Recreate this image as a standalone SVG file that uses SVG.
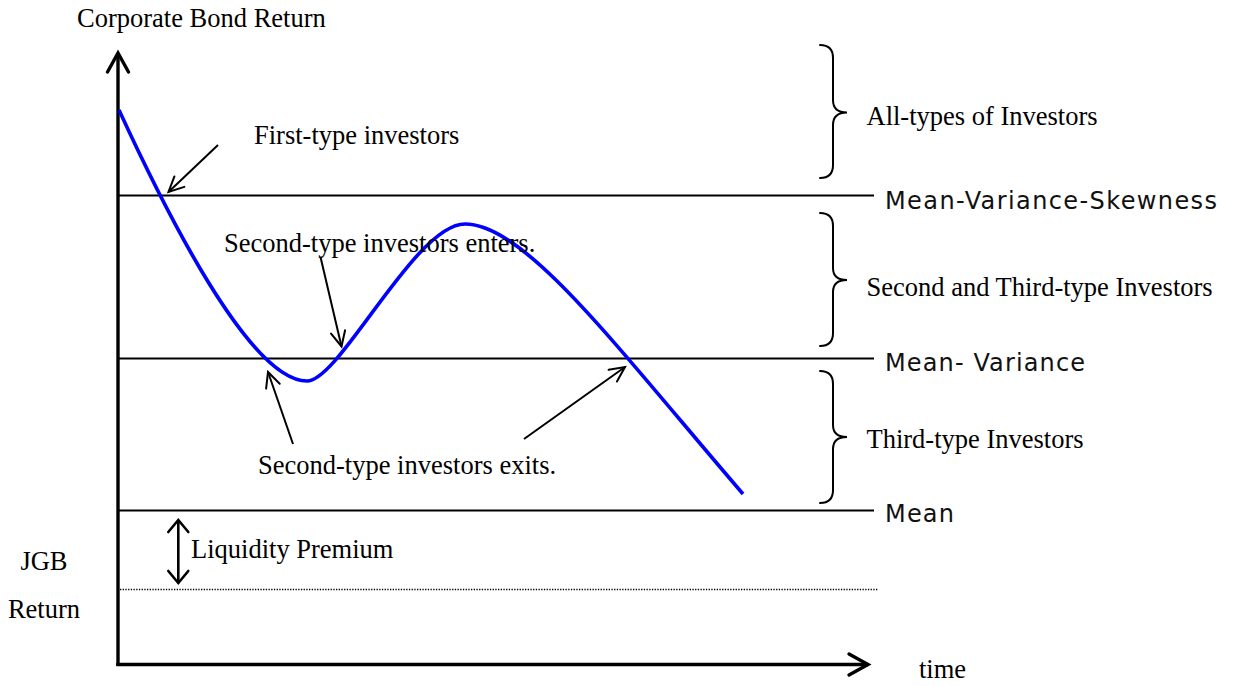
<svg xmlns="http://www.w3.org/2000/svg" width="1234" height="686" viewBox="0 0 1234 686">
<style>
.serif{font-family:"Liberation Serif","Times New Roman",serif;font-size:26.5px;fill:#000}
.sans{font-family:"DejaVu Sans","Liberation Sans",sans-serif;font-size:24px;fill:#111}
.axis{stroke:#000;stroke-width:3.4;fill:none}
.level{stroke:#000;stroke-width:2;fill:none}
.brace{stroke:#000;stroke-width:2;fill:none;stroke-linecap:round}
.ptr{stroke:#000;stroke-width:2;fill:none}
</style>
<defs>
<marker id="axhead" markerUnits="userSpaceOnUse" markerWidth="26" markerHeight="26" refX="21" refY="12" orient="auto" overflow="visible">
<path d="M2,1.5 L21,12 L2,22.5" fill="none" stroke="#000" stroke-width="3.4" stroke-linejoin="miter" stroke-linecap="round"/>
</marker>
<marker id="ah" markerUnits="userSpaceOnUse" markerWidth="20" markerHeight="20" refX="16" refY="8" orient="auto" overflow="visible">
<path d="M1,0.8 L16,8 L1,15.2" fill="none" stroke="#000" stroke-width="2" stroke-linecap="round"/>
</marker>
<marker id="dh" markerUnits="userSpaceOnUse" markerWidth="20" markerHeight="24" refX="13" refY="10" orient="auto-start-reverse" overflow="visible">
<path d="M1,0 L13,10 L1,20" fill="none" stroke="#000" stroke-width="2.6" stroke-linecap="round"/>
</marker>
</defs>

<g id="axes">
<line class="axis" x1="118" y1="666" x2="118" y2="53" marker-end="url(#axhead)"/>
<line class="axis" x1="116.3" y1="664.5" x2="868" y2="664.5" marker-end="url(#axhead)"/>
<text class="serif" x="77" y="27">Corporate Bond Return</text>
<text class="serif" x="919" y="678">time</text>
</g>

<g id="level-mvs">
<line class="level" x1="118" y1="195.5" x2="874" y2="195.5"/>
<text class="sans" x="885" y="209" textLength="332" lengthAdjust="spacing">Mean-Variance-Skewness</text>
</g>
<g id="level-mv">
<line class="level" x1="118" y1="358.5" x2="874" y2="358.5"/>
<text class="sans" x="885" y="371" textLength="200" lengthAdjust="spacing">Mean- Variance</text>
</g>
<g id="level-mean">
<line class="level" x1="118" y1="510.5" x2="874" y2="510.5"/>
<text class="sans" x="885" y="522" textLength="69" lengthAdjust="spacing">Mean</text>
</g>
<g id="jgb">
<line x1="120" y1="589.5" x2="878" y2="589.5" stroke="#000" stroke-width="1.3" stroke-dasharray="1.3 1.4"/>
<text class="serif" x="44" y="570" text-anchor="middle">JGB</text>
<text class="serif" x="44" y="618" text-anchor="middle">Return</text>
</g>

<g id="brace-all">
<path class="brace" d="M820,45 Q833,45 833,58 L833,100 Q833,112.5 847,112.5 Q833,112.5 833,125 L833,165 Q833,178 820,178"/>
<text class="serif" x="866.5" y="125">All-types of Investors</text>
</g>
<g id="brace-second-third">
<path class="brace" d="M820,213 Q833,213 833,226 L833,268 Q833,280 847,280 Q833,280 833,292 L833,333 Q833,346 820,346"/>
<text class="serif" x="866.5" y="296">Second and Third-type Investors</text>
</g>
<g id="brace-third">
<path class="brace" d="M820,371 Q833,371 833,384 L833,425 Q833,437 847,437 Q833,437 833,449 L833,490 Q833,503 820,503"/>
<text class="serif" x="866.5" y="448">Third-type Investors</text>
</g>

<g id="return-curve">
<path d="M119,110 C165,210 250,381 307,381 C340,381 415,224 465,224 C525,224 615,345 743,494" fill="none" stroke="#0000FF" stroke-width="3.6"/>
</g>

<g id="label-first">
<text class="serif" x="254" y="144">First-type investors</text>
</g>
<g id="label-enters">
<text class="serif" x="224" y="252">Second-type investors enters.</text>
</g>
<g id="label-exits">
<text class="serif" x="258" y="474">Second-type investors exits.</text>
</g>
<g id="label-liquidity">
<text class="serif" x="191" y="558">Liquidity Premium</text>
</g>

<g id="connectors">
<line class="ptr" x1="218" y1="145" x2="168.5" y2="192" marker-end="url(#ah)"/>
<line class="ptr" x1="320.5" y1="257" x2="341.5" y2="346.5" marker-end="url(#ah)"/>
<line class="ptr" x1="293" y1="444" x2="268" y2="372" marker-end="url(#ah)"/>
<line class="ptr" x1="524" y1="439" x2="625" y2="367" marker-end="url(#ah)"/>
<line x1="178.3" y1="520" x2="178.3" y2="583" stroke="#000" stroke-width="2.6" marker-start="url(#dh)" marker-end="url(#dh)"/>
</g>
</svg>
